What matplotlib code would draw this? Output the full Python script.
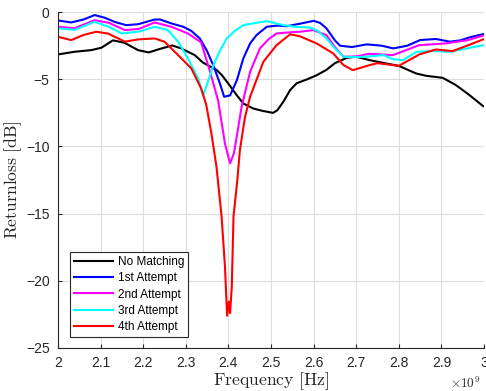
import numpy as np
import matplotlib
matplotlib.use("Agg")
import matplotlib.pyplot as plt
from matplotlib.ticker import FuncFormatter

# frequencies in GHz, return loss in dB
f_none = [2.000, 2.039, 2.078, 2.102, 2.129, 2.156, 2.188, 2.213, 2.235, 2.268,
          2.289, 2.321, 2.340, 2.372, 2.385, 2.404, 2.420, 2.435, 2.458, 2.480,
          2.505, 2.515, 2.529, 2.545, 2.560, 2.585, 2.607, 2.630, 2.650, 2.678,
          2.700, 2.731, 2.770, 2.800, 2.840, 2.864, 2.903, 2.934, 2.966, 2.998]
s_none = [-3.15, -2.95, -2.83, -2.65, -2.10, -2.28, -2.83, -3.00, -2.78, -2.48,
          -2.70, -3.20, -3.75, -4.30, -4.70, -5.50, -6.20, -6.80, -7.17, -7.35,
          -7.50, -7.30, -6.67, -5.80, -5.30, -5.00, -4.70, -4.30, -3.80, -3.40,
          -3.32, -3.57, -3.82, -4.00, -4.56, -4.74, -4.89, -5.43, -6.18, -7.00]

f_1st = [2.000, 2.031, 2.060, 2.086, 2.110, 2.135, 2.160, 2.188, 2.227, 2.240,
         2.266, 2.294, 2.313, 2.333, 2.350, 2.365, 2.380, 2.390, 2.404, 2.420,
         2.435, 2.451, 2.466, 2.490, 2.515, 2.537, 2.570, 2.600, 2.615, 2.630,
         2.650, 2.662, 2.690, 2.725, 2.760, 2.787, 2.820, 2.850, 2.887, 2.920,
         2.945, 2.966, 2.998]
s_1st = [-0.62, -0.77, -0.55, -0.22, -0.42, -0.75, -0.97, -0.90, -0.55, -0.55,
         -0.84, -1.09, -1.40, -1.96, -2.90, -4.00, -5.30, -6.30, -6.20, -5.06,
         -3.45, -2.33, -1.71, -1.09, -1.00, -1.05, -0.85, -0.65, -0.80, -1.20,
         -2.10, -2.50, -2.60, -2.40, -2.50, -2.70, -2.50, -2.08, -2.00, -2.20,
         -2.10, -1.88, -1.64]

f_2nd = [2.000, 2.039, 2.086, 2.120, 2.157, 2.190, 2.227, 2.266, 2.305, 2.336,
         2.357, 2.376, 2.392, 2.404, 2.413, 2.421, 2.431, 2.451, 2.474, 2.495,
         2.513, 2.545, 2.568, 2.600, 2.630, 2.650, 2.670, 2.700, 2.731, 2.786,
         2.848, 2.910, 2.960, 2.997]
s_2nd = [-1.09, -1.20, -0.60, -0.80, -1.34, -1.25, -0.77, -1.09, -1.59, -2.25,
         -4.44, -6.60, -9.80, -11.26, -10.50, -9.00, -7.04, -4.44, -2.70, -2.00,
         -1.59, -1.50, -1.46, -1.34, -1.71, -2.60, -3.32, -3.30, -3.10, -3.20,
         -2.46, -2.33, -2.10, -1.76]

f_3rd = [2.000, 2.039, 2.086, 2.120, 2.149, 2.190, 2.227, 2.258, 2.282, 2.305,
         2.329, 2.341, 2.365, 2.380, 2.396, 2.415, 2.435, 2.465, 2.490, 2.529,
         2.560, 2.592, 2.610, 2.630, 2.650, 2.670, 2.700, 2.731, 2.764, 2.786,
         2.810, 2.842, 2.880, 2.920, 2.960, 2.998]
s_3rd = [-1.21, -1.32, -0.72, -1.10, -1.59, -1.45, -1.09, -1.34, -2.20, -3.45,
         -4.93, -6.20, -3.94, -2.90, -1.96, -1.40, -0.97, -0.80, -0.67, -0.97,
         -1.10, -1.15, -1.40, -1.96, -2.70, -3.32, -3.35, -3.30, -3.20, -3.50,
         -3.57, -2.95, -2.90, -2.95, -2.70, -2.46]

f_4th = [2.000, 2.031, 2.060, 2.090, 2.118, 2.157, 2.188, 2.227, 2.250, 2.282,
         2.313, 2.336, 2.348, 2.360, 2.372, 2.384, 2.392, 2.397, 2.401, 2.404,
         2.408, 2.412, 2.421, 2.427, 2.439, 2.451, 2.482, 2.513, 2.545, 2.568,
         2.607, 2.646, 2.670, 2.692, 2.732, 2.750, 2.800, 2.848, 2.887, 2.926,
         2.960, 2.998]
s_4th = [-1.84, -2.08, -1.70, -1.46, -1.60, -2.20, -2.03, -1.96, -2.20, -3.20,
         -4.19, -5.68, -6.90, -9.00, -11.50, -15.20, -18.95, -22.60, -21.55, -22.40,
         -20.40, -15.20, -12.50, -10.27, -7.80, -6.30, -3.70, -2.46, -1.65, -1.80,
         -2.33, -3.07, -3.94, -4.32, -3.94, -3.80, -4.00, -3.15, -2.78, -2.90,
         -2.50, -2.03]

series = [
    (f_none, s_none, "#000000", "No Matching"),
    (f_1st, s_1st, "#0000ff", "1st Attempt"),
    (f_2nd, s_2nd, "#ff00ff", "2nd Attempt"),
    (f_3rd, s_3rd, "#00ffff", "3rd Attempt"),
    (f_4th, s_4th, "#ff0000", "4th Attempt"),
]

plt.rcParams["font.family"] = ["Liberation Sans", "DejaVu Sans"]
plt.rcParams["mathtext.fontset"] = "cm"

fig = plt.figure(figsize=(4.86, 3.91), dpi=100)
ax = fig.add_axes([0.1193, 0.110, 0.8766, 0.859])

for f, s, c, lab in series:
    ax.plot(np.array(f) * 1e9, s, color=c, lw=1.5, label=lab)

ax.set_xlim(2e9, 3e9)
ax.set_ylim(-25, 0)
ax.set_xticks(np.arange(2.0, 3.01, 0.1) * 1e9)
ax.set_yticks([-25, -20, -15, -10, -5, 0])
ax.xaxis.set_major_formatter(FuncFormatter(lambda v, p: f"{v / 1e9:g}"))
ax.grid(True, color="#dcdcdc", lw=0.8)
ax.set_axisbelow(True)
for side in ["top", "right"]:
    ax.spines[side].set_visible(False)
for side in ["left", "bottom"]:
    ax.spines[side].set_color("#262626")
    ax.spines[side].set_linewidth(0.8)
ax.tick_params(direction="in", length=3, width=0.8, colors="#262626",
               labelsize=10, pad=6)

ax.set_xlabel(r"$\mathrm{Frequency\ [Hz]}$", fontsize=12.7, color="#262626", labelpad=0)
ax.set_ylabel(r"$\mathrm{Returnloss\ [dB]}$", fontsize=12.7, color="#262626")
ax.yaxis.set_label_coords(-0.08, 0.5)
ax.text(0.99, -0.083, r"$\times10^9$", transform=ax.transAxes, ha="right",
        va="top", fontsize=9.5, color="#262626", family="DejaVu Sans")

leg = ax.legend(loc="lower left", bbox_to_anchor=(0.028, 0.033), borderaxespad=0,
                fontsize=8.5, handlelength=3.3, handletextpad=0.4, labelspacing=0.35,
                borderpad=0.35, fancybox=False, framealpha=1)
leg.get_frame().set_edgecolor("#262626")
leg.get_frame().set_linewidth(0.8)

fig.savefig("out.png", dpi=100)
